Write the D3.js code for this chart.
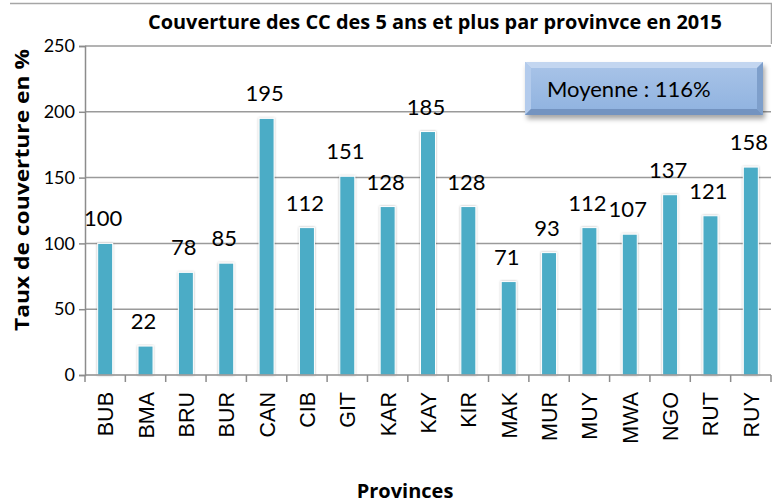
<!DOCTYPE html>
<html>
<head>
<meta charset="utf-8">
<style>
  body { margin: 0; background: #fff; }
  svg { display: block; }
</style>
</head>
<body>
<svg width="772" height="504"></svg>
<script src="https://cdn.jsdelivr.net/npm/d3@7"></script>
<script>

var provinces = ["BUB", "BMA", "BRU", "BUR", "CAN", "CIB", "GIT", "KAR", "KAY",
                 "KIR", "MAK", "MUR", "MUY", "MWA", "NGO", "RUT", "RUY"];
var couverture = [100, 22, 78, 85, 195, 112, 151, 128, 185, 128, 71, 93, 112, 107, 137, 121, 158];
var yTicks = [0, 50, 100, 150, 200, 250];
var moyenne = 116;

var svg = d3.select("svg"),
    margin = {top: 46, right: 1, bottom: 129, left: 85},
    width = 772 - margin.left - margin.right,
    height = 504 - margin.top - margin.bottom;

var defs = svg.append("defs");

// bevel look for the "Moyenne" box
var lg = defs.append("linearGradient").attr("id", "boxGrad")
    .attr("x1", 0).attr("y1", 0).attr("x2", 0).attr("y2", 1);
lg.append("stop").attr("offset", "0%").attr("stop-color", "#a9c4e8");
lg.append("stop").attr("offset", "100%").attr("stop-color", "#8fb2df");

var sh = defs.append("filter").attr("id", "shadow")
    .attr("x", "-10%").attr("y", "-20%").attr("width", "130%").attr("height", "160%");
sh.append("feDropShadow").attr("dx", 2).attr("dy", 4).attr("stdDeviation", 2.5)
    .attr("flood-color", "#000").attr("flood-opacity", 0.35);

var barShadow = defs.append("filter").attr("id", "barShadow")
    .attr("x", "-40%").attr("y", "-5%").attr("width", "180%").attr("height", "110%");
barShadow.append("feDropShadow").attr("dx", 0).attr("dy", 0).attr("stdDeviation", 1.2)
    .attr("flood-color", "#000").attr("flood-opacity", 0.3);

// outer frame (top & right edges visible)
svg.append("path")
    .attr("d", "M10,3.5H771.5V44")
    .attr("fill", "none")
    .attr("stroke", "#a6a6a6")
    .attr("stroke-width", 1.5);

var g = svg.append("g")
    .attr("transform", "translate(" + margin.left + "," + margin.top + ")");

var x = d3.scaleBand()
    .domain(provinces)
    .range([0, width]);

var y = d3.scaleLinear()
    .domain([0, 250])
    .range([height, 0]);

// gridlines
g.selectAll(".grid")
  .data(yTicks.filter(function(d) { return d > 0; }))
  .enter().append("line")
    .attr("x1", 0)
    .attr("x2", width)
    .attr("y1", function(d) { return y(d); })
    .attr("y2", function(d) { return y(d); })
    .attr("stroke", "#9a9a9a")
    .attr("stroke-width", 1.5);

// y axis
var yAxis = g.append("g")
    .call(d3.axisLeft(y).tickValues(yTicks).tickSize(6).tickPadding(4));
yAxis.select(".domain").attr("stroke", "#8c8c8c").attr("stroke-width", 1.5);
yAxis.selectAll(".tick line").attr("stroke", "#8c8c8c").attr("stroke-width", 1.5);
yAxis.selectAll("text")
    .attr("font-family", "Lato, 'Open Sans', sans-serif")
    .attr("font-size", "18px")
    .attr("fill", "#000");

// bars
var bw = 15;
g.selectAll(".bar")
  .data(couverture)
  .enter().append("rect")
    .attr("class", "bar")
    .attr("x", function(d, i) { return x(provinces[i]) + x.bandwidth() / 2 - bw / 2; })
    .attr("y", function(d) { return y(d); })
    .attr("width", bw)
    .attr("height", function(d) { return height - y(d); })
    .attr("fill", "#4bacc6")
    .attr("stroke", "#fff")
    .attr("stroke-width", 1)
    .attr("filter", "url(#barShadow)");

// x axis (ticks on band boundaries)
var xAxisG = g.append("g")
    .attr("transform", "translate(0," + height + ")");
xAxisG.append("line")
    .attr("x1", 0).attr("x2", width)
    .attr("stroke", "#8c8c8c").attr("stroke-width", 1.5);
xAxisG.selectAll(".xt")
  .data(provinces.concat(["end"]))
  .enter().append("line")
    .attr("x1", function(d, i) { return i * x.step(); })
    .attr("x2", function(d, i) { return i * x.step(); })
    .attr("y1", 0).attr("y2", 7)
    .attr("stroke", "#8c8c8c").attr("stroke-width", 1.5);

xAxisG.selectAll(".xl")
  .data(provinces)
  .enter().append("text")
    .attr("transform", function(d) {
      return "translate(" + (x(d) + x.bandwidth() / 2 + 8) + ",17) rotate(-90)";
    })
    .attr("text-anchor", "end")
    .attr("font-family", "'Liberation Sans', Arial, sans-serif")
    .attr("font-size", "21.5px")
    .attr("fill", "#000")
    .text(function(d) { return d; });

// value labels
g.selectAll(".val")
  .data(couverture)
  .enter().append("text")
    .attr("x", function(d, i) { return x(provinces[i]) + x.bandwidth() / 2 - 2; })
    .attr("y", function(d) { return y(d) - 17; })
    .attr("text-anchor", "middle")
    .attr("font-family", "Lato, 'Open Sans', sans-serif")
    .attr("font-size", "22px")
    .attr("fill", "#000")
    .text(function(d) { return d; });

// title
svg.append("text")
    .attr("x", 435)
    .attr("y", 29)
    .attr("text-anchor", "middle")
    .attr("font-family", "'Open Sans', sans-serif")
    .attr("font-weight", "bold")
    .attr("font-size", "19px")
    .attr("textLength", 574)
    .attr("lengthAdjust", "spacingAndGlyphs")
    .attr("fill", "#000")
    .text("Couverture des CC des 5 ans et plus par provinvce en 2015");

// axis titles
svg.append("text")
    .attr("transform", "translate(29,190) rotate(-90)")
    .attr("text-anchor", "middle")
    .attr("font-family", "'Open Sans', sans-serif")
    .attr("font-weight", "bold")
    .attr("font-size", "20px")
    .attr("textLength", 282)
    .attr("lengthAdjust", "spacingAndGlyphs")
    .attr("fill", "#000")
    .text("Taux de couverture en %");

svg.append("text")
    .attr("x", 405)
    .attr("y", 498)
    .attr("text-anchor", "middle")
    .attr("font-family", "'Open Sans', sans-serif")
    .attr("font-weight", "bold")
    .attr("font-size", "20px")
    .attr("fill", "#000")
    .text("Provinces");

// "Moyenne" box
var box = svg.append("g").attr("transform", "translate(525,62)");
var bwid = 238, bht = 53, bev = 6;
box.append("rect")
    .attr("width", bwid).attr("height", bht)
    .attr("fill", "url(#boxGrad)")
    .attr("filter", "url(#shadow)");
// bevel edges
box.append("path")
    .attr("d", "M0,0H" + bwid + "L" + (bwid - bev) + "," + bev + "H" + bev + "Z")
    .attr("fill", "#c3d6f0");
box.append("path")
    .attr("d", "M0,0L" + bev + "," + bev + "V" + (bht - bev) + "L0," + bht + "Z")
    .attr("fill", "#b3cbec");
box.append("path")
    .attr("d", "M" + bwid + ",0V" + bht + "L" + (bwid - bev) + "," + (bht - bev) + "V" + bev + "Z")
    .attr("fill", "#7e9fcb");
box.append("path")
    .attr("d", "M0," + bht + "H" + bwid + "L" + (bwid - bev) + "," + (bht - bev) + "H" + bev + "Z")
    .attr("fill", "#7393c0");
box.append("text")
    .attr("x", 22)
    .attr("y", 35)
    .attr("font-family", "Lato, 'Open Sans', sans-serif")
    .attr("font-size", "22px")
    .attr("fill", "#000")
    .text("Moyenne : " + moyenne + "%");

</script>
</body>
</html>
